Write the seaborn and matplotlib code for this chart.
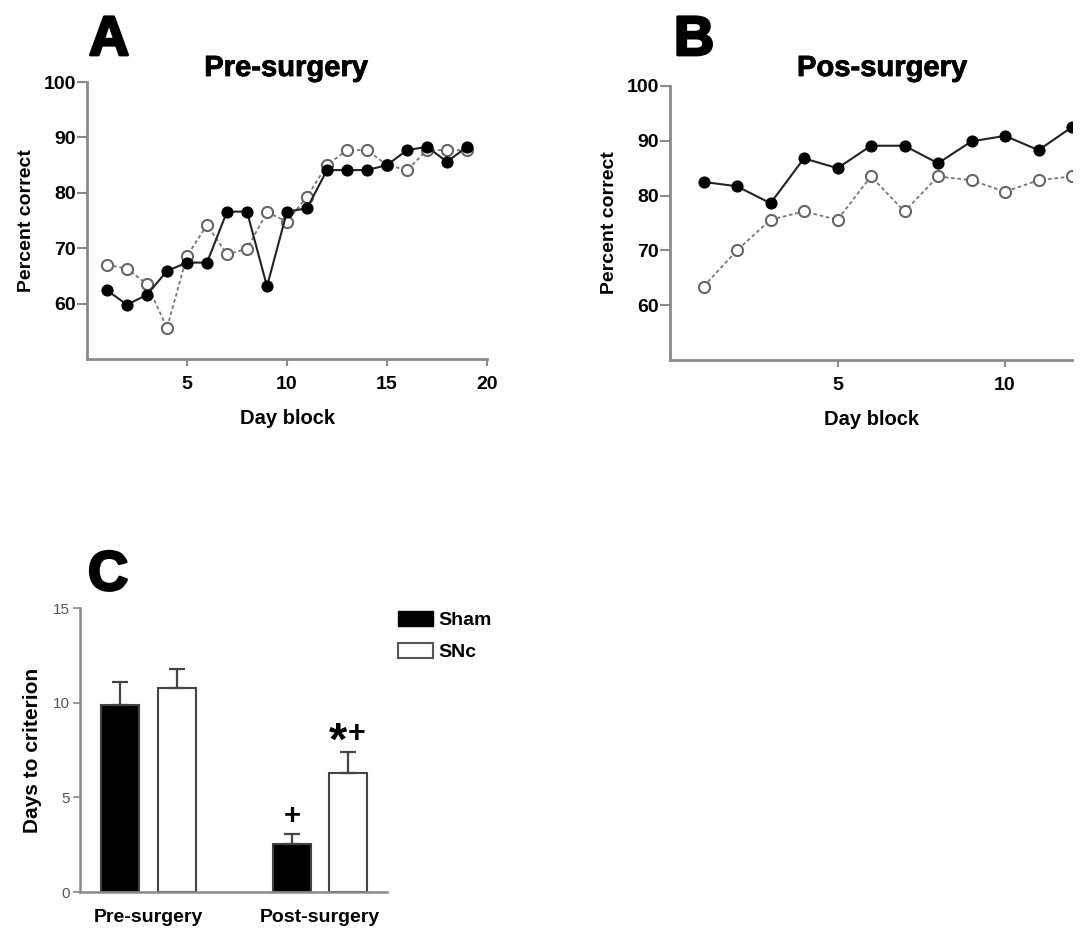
import numpy as np
import pandas as pd
import matplotlib
matplotlib.use("Agg")
import matplotlib.pyplot as plt
import matplotlib.patheffects as pe
from matplotlib.patches import Patch
import seaborn as sns

# ---------------- data ----------------
blocks_pre = list(range(1, 20))
sham_pre = [62.4, 59.8, 61.6, 65.9, 67.4, 67.4, 76.6, 76.6, 63.1, 76.6,
            77.2, 84.1, 84.1, 84.1, 85.0, 87.7, 88.3, 85.6, 88.3]
snc_pre = [67.0, 66.3, 63.5, 55.6, 68.6, 74.2, 68.9, 69.9, 76.5, 74.8,
           79.3, 85.0, 87.7, 87.7, 85.0, 84.1, 87.7, 87.7, 87.7]

blocks_post = list(range(1, 13))
sham_post = [82.5, 81.7, 78.6, 86.8, 85.0, 89.1, 89.1, 85.9, 89.9, 90.9, 88.3, 92.5]
snc_post = [63.4, 70.0, 75.6, 77.1, 75.6, 83.5, 77.1, 83.5, 82.8, 80.7, 82.8, 83.5]

phases = ["Pre-surgery", "Post-surgery"]
groups = ["Sham", "SNc"]
days_mean = {"Sham": [9.9, 2.55], "SNc": [10.8, 6.3]}
days_sem = {"Sham": [1.2, 0.5], "SNc": [1.0, 1.1]}
annotations = {("Sham", "Post-surgery"): "+", ("SNc", "Post-surgery"): "*+"}

# ---------------- style ----------------
sns.set_style("ticks")
plt.rcParams["font.family"] = ["Liberation Sans", "DejaVu Sans"]
plt.rcParams["text.color"] = "black"
plt.rcParams["axes.labelcolor"] = "black"
plt.rcParams["xtick.color"] = "black"
plt.rcParams["ytick.color"] = "black"
SPINE = "#8a8a8a"
HEAVY = [pe.withStroke(linewidth=2.0, foreground="black")]
SEMI = [pe.withStroke(linewidth=0.6, foreground="black")]

fig = plt.figure(figsize=(10.92, 9.35), dpi=100)
W, H = 1092, 935


def px_axes(l, t, r, b):
    return fig.add_axes([l / W, 1 - b / H, (r - l) / W, (b - t) / H])


def style_line_axes(ax, xmax, xticks):
    ax.set_xlim(0, xmax)
    ax.set_ylim(50, 100)
    ax.set_yticks([60, 70, 80, 90, 100])
    ax.set_xticks(xticks)
    for s in ["top", "right"]:
        ax.spines[s].set_visible(False)
    for s in ["left", "bottom"]:
        ax.spines[s].set_color(SPINE)
        ax.spines[s].set_linewidth(2)
    ax.tick_params(axis="y", length=7, width=1.5, color=SPINE, pad=1,
                   labelsize=14)
    ax.tick_params(axis="x", length=5, width=1.5, color=SPINE, pad=7,
                   labelsize=14)
    for lab in ax.get_xticklabels() + ax.get_yticklabels():
        lab.set_fontweight("bold")
    ax.set_xlabel("Day block", fontsize=14.5, fontweight="bold", labelpad=12)
    ax.set_ylabel("Percent correct", fontsize=14, fontweight="bold", labelpad=6)


def draw_lines(ax, x, sham, snc):
    sns.lineplot(x=x, y=snc, ax=ax, color="#777777", linestyle=(0, (2, 1.5)),
                 linewidth=1.3, marker="o", markersize=8,
                 markerfacecolor="white", markeredgecolor="#666666",
                 markeredgewidth=1.5, zorder=3)
    sns.lineplot(x=x, y=sham, ax=ax, color="#222222", linewidth=1.5,
                 marker="o", markersize=8, markerfacecolor="black",
                 markeredgecolor="black", zorder=4)


# Panel A
axA = px_axes(87, 82, 487, 359)
draw_lines(axA, blocks_pre, sham_pre, snc_pre)
style_line_axes(axA, 20, [5, 10, 15, 20])

# Panel B
axB = px_axes(670, 86, 1072, 360)
draw_lines(axB, blocks_post, sham_post, snc_post)
style_line_axes(axB, 12, [5, 10])

# Panel letters & titles
for x, y, s in [(89, 55, "A"), (674, 55, "B"), (88, 590, "C")]:
    fig.text(x / W, 1 - y / H, s, fontsize=40, fontweight="bold",
             ha="left", va="baseline", path_effects=HEAVY)
fig.text(286 / W, 1 - 76 / H, "Pre-surgery", fontsize=21, fontweight="bold",
         ha="center", va="baseline", path_effects=SEMI)
fig.text(882 / W, 1 - 76 / H, "Pos-surgery", fontsize=21, fontweight="bold",
         ha="center", va="baseline", path_effects=SEMI)

# Panel C
rows = []
for g in groups:
    for i, p in enumerate(phases):
        rows.append({"phase": p, "group": g, "days": days_mean[g][i]})
df = pd.DataFrame(rows)

axC = px_axes(80, 608, 387, 892)
sns.barplot(data=df, x="phase", y="days", hue="group", order=phases,
            hue_order=groups, palette={"Sham": "black", "SNc": "white"},
            width=0.66, gap=0.33, errorbar=None, ax=axC, legend=False,
            edgecolor="#444444", linewidth=1.5)

for container, g in zip(axC.containers, groups):
    for bar, p, m, e in zip(container, phases, days_mean[g], days_sem[g]):
        xc = bar.get_x() + bar.get_width() / 2
        axC.errorbar(xc, m, yerr=[[0], [e]], fmt="none", ecolor="#444444",
                     elinewidth=1.6, capsize=6, capthick=1.6, zorder=1)
        key = (g, p)
        if key in annotations:
            txt = annotations[key]
            if txt.startswith("*"):
                axC.text(xc - 0.005, m + e - 0.66, "*", ha="right", va="bottom",
                         fontsize=34, fontweight="bold")
                axC.text(xc - 0.005, m + e + 0.14, txt[1:], ha="left",
                         va="bottom", fontsize=22, fontweight="bold")
            else:
                axC.text(xc, m + e + 0.2, txt, ha="center", va="bottom",
                         fontsize=21, fontweight="bold")

axC.set_xlim(-0.40, 1.39)
axC.set_ylim(0, 15)
axC.set_yticks([0, 5, 10, 15])
for s in ["top", "right"]:
    axC.spines[s].set_visible(False)
for s in ["left", "bottom"]:
    axC.spines[s].set_color(SPINE)
    axC.spines[s].set_linewidth(1.8)
axC.tick_params(axis="y", length=5, width=1.2, color=SPINE, pad=2,
                labelsize=11, labelcolor="#555555")
axC.tick_params(axis="x", length=0, pad=12, labelsize=14)
for lab in axC.get_xticklabels():
    lab.set_fontweight("bold")
axC.set_xlabel("")
axC.set_ylabel("Days to criterion", fontsize=15, fontweight="bold", labelpad=8)

handles = [Patch(facecolor="black", edgecolor="black", label="Sham"),
           Patch(facecolor="white", edgecolor="#555555", linewidth=1.5, label="SNc")]
leg = fig.legend(handles=handles, loc="upper left",
                 bbox_to_anchor=(398 / W, 1 - 611 / H), frameon=False,
                 fontsize=14, handlelength=1.8, handleheight=0.8,
                 handletextpad=0.3, labelspacing=0.72, borderpad=0,
                 borderaxespad=0)
for t in leg.get_texts():
    t.set_fontweight("bold")

fig.savefig("out.png", dpi=100)
